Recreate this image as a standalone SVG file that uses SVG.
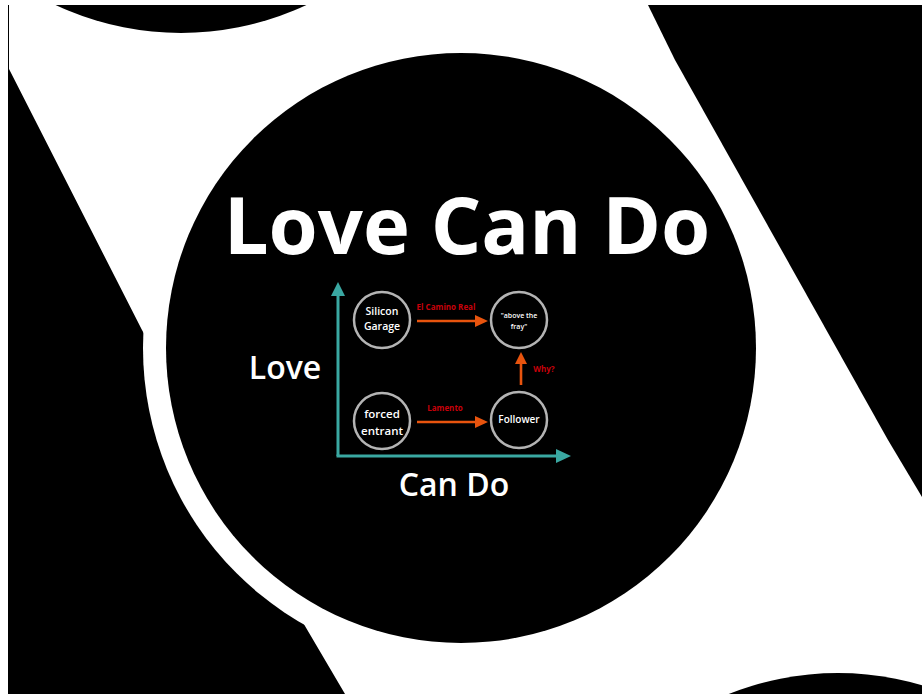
<svg xmlns="http://www.w3.org/2000/svg" width="922" height="694" viewBox="0 0 922 694">
<style>
.bk{fill:#000}
.wt{fill:#fff}
.node circle{fill:#000;stroke:#b4b4b4;stroke-width:2.5}
.node text{fill:#fff;font-family:"Open Sans","DejaVu Sans",sans-serif;font-weight:600;text-anchor:middle}
.lbl{fill:#c8000a;font-family:"Open Sans","DejaVu Sans",sans-serif;font-weight:700;font-size:8px}
.big{fill:#fff;font-family:"Open Sans","DejaVu Sans",sans-serif;font-weight:700}
.axis{stroke:#3aa8a2;stroke-width:3;fill:none}
.axh{fill:#3aa8a2}
.arr{stroke:#e8540e;stroke-width:2.6;fill:none}
.arh{fill:#e8540e}
</style>
<defs>
<clipPath id="page"><rect x="8" y="5" width="914" height="689"/></clipPath>
</defs>
<rect x="0" y="0" width="922" height="694" class="wt"/>
<g id="background" clip-path="url(#page)">
<polygon class="bk" points="8,67 142,330 305,626 345,694 8,694"/>
<polygon class="bk" points="648,5 922,5 922,497 888,440 675,60"/>
<circle class="bk" cx="181" cy="-262" r="295"/>
<circle class="bk" cx="838" cy="968" r="295"/>
<circle class="wt" cx="461" cy="348" r="318"/>
<circle class="bk" cx="461" cy="348" r="295"/>
<line x1="8.5" y1="5" x2="8.5" y2="694" stroke="#000" stroke-width="1"/>
</g>
<g id="title">
<text class="big" x="467" y="254" font-size="79.5" text-anchor="middle">Love Can Do</text>
</g>
<g id="axis-labels">
<text class="big" x="285" y="379" font-size="32" text-anchor="middle" style="font-weight:600">Love</text>
<text class="big" x="454" y="496" font-size="32" text-anchor="middle" style="font-weight:600">Can Do</text>
</g>
<g id="connectors">
<line class="axis" x1="338" y1="456" x2="338" y2="294"/>
<polygon class="axh" points="338,282 345,296 331,296"/>
<line class="axis" x1="336.5" y1="456" x2="557" y2="456"/>
<polygon class="axh" points="571,456 556,449 556,463"/>
<line class="arr" x1="417" y1="321" x2="477" y2="321"/>
<polygon class="arh" points="488,321 475,315 475,327"/>
<line class="arr" x1="417" y1="422" x2="477" y2="422"/>
<polygon class="arh" points="488,422 475,416 475,428"/>
<line class="arr" x1="521" y1="385" x2="521" y2="363"/>
<polygon class="arh" points="521,352 515,364 527,364"/>
<text class="lbl" x="446" y="310" text-anchor="middle">El Camino Real</text>
<text class="lbl" x="445" y="411" text-anchor="middle">Lamento</text>
<text class="lbl" x="544" y="372" text-anchor="middle">Why?</text>
</g>
<g id="node-silicon-garage" class="node">
<circle cx="382" cy="320" r="28"/>
<text x="382" y="315" font-size="10.5">Silicon</text>
<text x="382" y="330" font-size="10.5">Garage</text>
</g>
<g id="node-above-the-fray" class="node">
<circle cx="519" cy="320" r="28"/>
<text x="519" y="318" font-size="7">"above the</text>
<text x="519" y="329" font-size="7">fray"</text>
</g>
<g id="node-forced-entrant" class="node">
<circle cx="382" cy="421" r="28"/>
<text x="382" y="418" font-size="11.5">forced</text>
<text x="382" y="435" font-size="11.5">entrant</text>
</g>
<g id="node-follower" class="node">
<circle cx="519" cy="420" r="28"/>
<text x="519" y="423" font-size="10">Follower</text>
</g>
</svg>
